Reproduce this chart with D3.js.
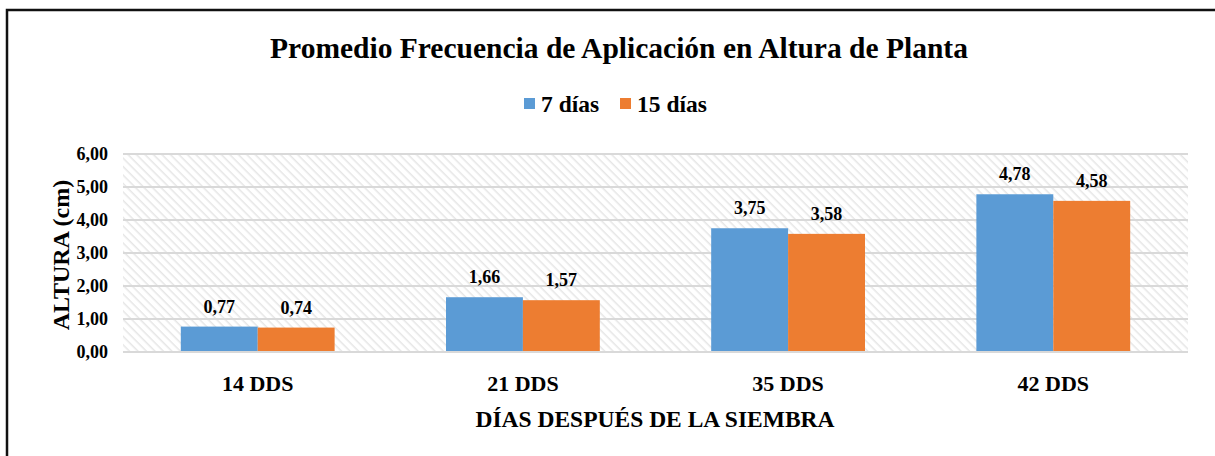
<!DOCTYPE html>
<html><head><meta charset="utf-8">
<script src="https://cdn.jsdelivr.net/npm/d3@7"></script>
<style>body{margin:0;background:#fff}svg{display:block}text{font-family:"Liberation Serif","Times New Roman",serif;font-weight:bold;fill:#000}</style>
</head><body>
<script>
const categories = ["14 DDS","21 DDS","35 DDS","42 DDS"];
const seriesNames = ["7 días","15 días"];
const values7 = [0.77,1.66,3.75,4.78];
const values15 = [0.74,1.57,3.58,4.58];
const yTicks = [0,1,2,3,4,5,6];
const colors = ["#5b9bd5","#ed7d31"];

(function(){
const W=1215,H=456;
const svg=d3.select("body").append("svg").attr("width",W).attr("height",H);
const defs=svg.append("defs");
const pat=defs.append("pattern").attr("id","hatch").attr("patternUnits","userSpaceOnUse")
  .attr("width",6).attr("height",6).attr("patternTransform","rotate(45)");
pat.append("rect").attr("width",6).attr("height",6).attr("fill","#fff");
pat.append("line").attr("x1",0).attr("y1",0).attr("x2",6).attr("y2",0).attr("stroke","#e6e6e6").attr("stroke-width",3);

svg.append("path").attr("d",`M7,${H+5} L7,10 L${W+5},10`).attr("fill","none").attr("stroke","#111").attr("stroke-width",2.5);

const pl=123,pr=1188,pt=154,pb=352;
const x=d3.scaleBand().domain(categories).range([pl,pr]).paddingInner(0.42).paddingOuter(0.218);
const xs=d3.scaleBand().domain(seriesNames).range([0,x.bandwidth()]);
const y=d3.scaleLinear().domain([0,6]).range([pb,pt]);

svg.append("rect").attr("x",pl).attr("y",pt).attr("width",pr-pl).attr("height",pb-pt).attr("fill","url(#hatch)");

svg.append("g").selectAll("line").data(yTicks).join("line")
  .attr("x1",pl).attr("x2",pr).attr("y1",d=>y(d)).attr("y2",d=>y(d))
  .attr("stroke","#d9d9d9").attr("stroke-width",2);

const yAxis=svg.append("g").attr("transform",`translate(${pl},0)`)
  .call(d3.axisLeft(y).tickValues(yTicks).tickSize(0).tickPadding(15).tickFormat(d=>d3.format(".2f")(d).replace(".",",")));
yAxis.select(".domain").remove();
yAxis.selectAll("text").style("font-size","18px").style("font-family","Liberation Serif").style("font-weight","bold");

const series=[values7,values15];
series.forEach((vals,si)=>{
  svg.append("g").selectAll("rect").data(vals).join("rect")
    .attr("x",(d,i)=>x(categories[i])+xs(seriesNames[si]))
    .attr("width",xs.bandwidth())
    .attr("y",d=>y(d)).attr("height",d=>y(0)-y(d)).attr("fill",colors[si]);
  svg.append("g").selectAll("text").data(vals).join("text")
    .attr("x",(d,i)=>x(categories[i])+xs(seriesNames[si])+xs.bandwidth()/2)
    .attr("y",d=>y(d)-14).attr("text-anchor","middle").style("font-size","18px")
    .text(d=>d3.format(".2f")(d).replace(".",","));
});

svg.append("line").attr("x1",pl).attr("x2",pr).attr("y1",pb).attr("y2",pb).attr("stroke","#d9d9d9").attr("stroke-width",2);

const xAxis=svg.append("g").attr("transform",`translate(0,${pb})`).call(d3.axisBottom(x).tickSize(0).tickPadding(0));
xAxis.select(".domain").remove();
xAxis.selectAll("text").attr("dy",null).attr("y",39).style("font-size","22px").style("font-family","Liberation Serif").style("font-weight","bold");

svg.append("text").attr("x",619).attr("y",58).attr("text-anchor","middle").style("font-size","29.5px")
  .text("Promedio Frecuencia de Aplicación en Altura de Planta");

svg.append("text").attr("x",655).attr("y",427).attr("text-anchor","middle").style("font-size","23.5px")
  .text("DÍAS DESPUÉS DE LA SIEMBRA");

svg.append("text").attr("transform","translate(69,255) rotate(-90)").attr("text-anchor","middle").style("font-size","24px")
  .text("ALTURA (cm)");

const legX=[524,620];
seriesNames.forEach((n,i)=>{
  svg.append("rect").attr("x",legX[i]).attr("y",98).attr("width",11).attr("height",11).attr("fill",colors[i]);
  svg.append("text").attr("x",legX[i]+17).attr("y",112).style("font-size","23.5px").text(n);
});
})();
</script>
</body></html>
